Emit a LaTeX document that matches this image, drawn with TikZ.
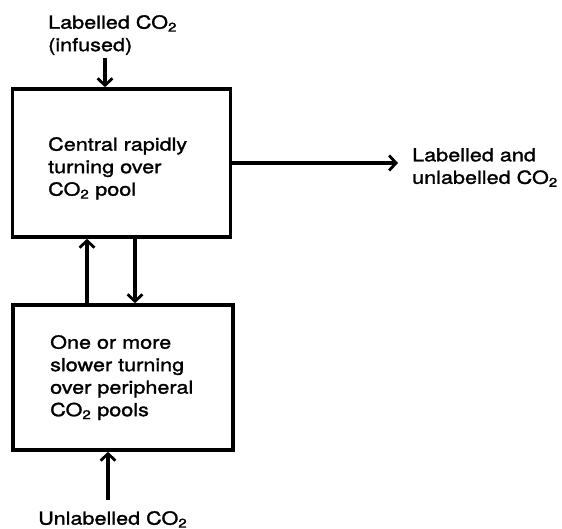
\documentclass[tikz,border=0pt]{standalone}
\usepackage{fontspec}
\setmainfont[FakeStretch=1.2,FakeBold=1.5]{TeX Gyre Heros}
\usetikzlibrary{arrows.meta}
\tikzset{
  pool/.style={draw, line width=3.6pt, rectangle, inner sep=0pt},
  txt/.style={align=left, font=\fontsize{18}{22.5}\selectfont, inner sep=0pt},
  flow/.style={line width=3.2pt, -{Straight Barb[length=7pt,width=15pt,line width=2.8pt]}}
}
\newcommand{\cotwo}{CO\textsubscript{2}}
\begin{document}
\begin{tikzpicture}[x=1pt,y=-1pt]
\useasboundingbox (0,0) rectangle (562,529);
\node[pool, minimum width=218pt, minimum height=148pt] (top) at (121.5,163) {};
\node[pool, minimum width=220pt, minimum height=145pt] (bot) at (123,377.5) {};
\node[txt, anchor=north west] (toptxt) at (48,137) {Central rapidly\\turning over\\\cotwo{} pool};
\node[txt, anchor=north west] (bottxt) at (50,335) {One or more\\slower turning\\over peripheral\\\cotwo{} pools};
\node[txt, anchor=north west] (inlab) at (48,15) {Labelled \cotwo\\(infused)};
\node[txt, anchor=north west] (outlab) at (412,148) {Labelled and\\unlabelled \cotwo};
\node[txt, anchor=north west] (unlab) at (38,511) {Unlabelled \cotwo};
\coordinate (inA) at (105,58);
\coordinate (unA) at (108,500);
\coordinate (outA) at (398,163);
\draw[flow] (inA) -- (inA |- top.north);
\draw[flow] (top.east |- outA) -- (outA);
\draw[flow] (87,0 |- bot.north) -- (87,0 |- top.south);
\draw[flow] (135,0 |- top.south) -- (135,0 |- bot.north);
\draw[flow] (unA) -- (unA |- bot.south);
\end{tikzpicture}
\end{document}
